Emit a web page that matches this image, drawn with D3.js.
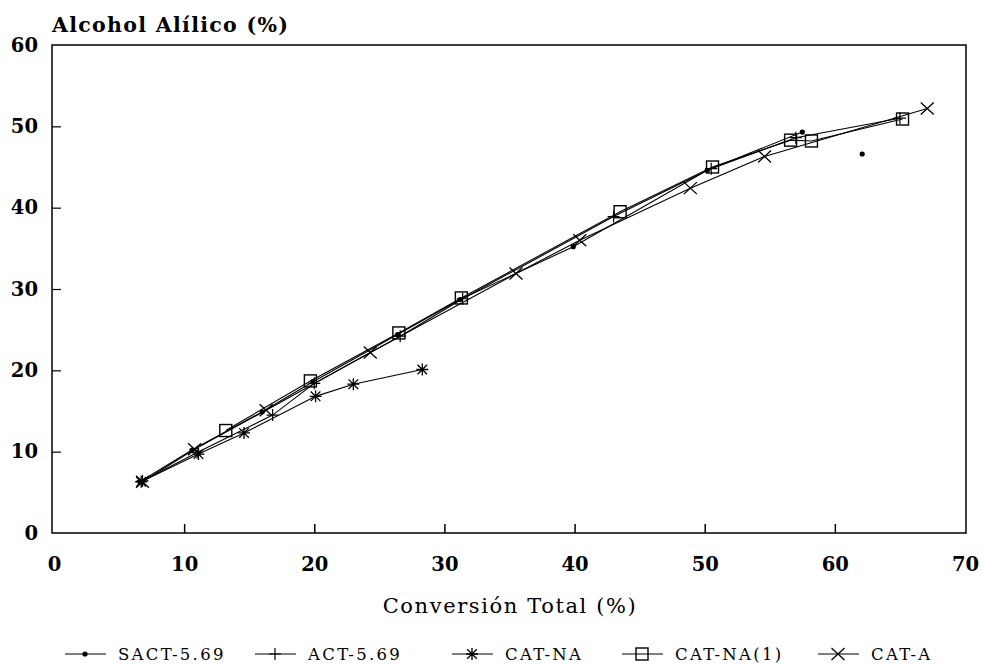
<!DOCTYPE html>
<html>
<head>
<meta charset="utf-8">
<script src="https://cdn.jsdelivr.net/npm/d3@7"></script>
<style>
  html, body { margin: 0; padding: 0; background: #fff; }
  svg { display: block; }
</style>
</head>
<body>
<svg id="chart" width="983" height="664"></svg>
<script>
// ---- data ----
const xTicks = [0, 10, 20, 30, 40, 50, 60, 70];
const yTicks = [0, 10, 20, 30, 40, 50, 60];

const seriesNames = ["SACT-5.69", "ACT-5.69", "CAT-NA", "CAT-NA(1)", "CAT-A"];
const seriesMarkers = ["dot", "plus", "star", "square", "cross"];

const sactX = [6.6, 10.6, 16.0, 19.9, 26.4, 31.2, 39.9, 50.2, 57.5];
const sactY = [6.3, 10.2, 14.9, 18.6, 24.4, 28.7, 35.2, 44.6, 49.3];

const actX = [6.8, 11.0, 16.8, 20.0, 26.6, 31.4, 43.0, 50.5, 57.0, 65.0];
const actY = [6.4, 9.9, 14.5, 18.4, 24.2, 28.8, 38.9, 44.8, 48.6, 51.0];

const catNaX = [6.7, 11.1, 14.6, 20.1, 23.0, 28.3];
const catNaY = [6.3, 9.7, 12.3, 16.8, 18.3, 20.1];

const catNa1X = [13.2, 19.7, 26.5, 31.3, 43.5, 50.6, 56.6, 58.2, 65.2];
const catNa1Y = [12.6, 18.7, 24.6, 28.9, 39.5, 45.0, 48.3, 48.2, 50.9];

const catAX = [6.8, 10.8, 16.3, 24.3, 35.5, 40.4, 48.9, 54.6, 67.1];
const catAY = [6.3, 10.3, 15.1, 22.2, 31.9, 36.0, 42.4, 46.3, 52.2];

const strayX = [62.1];
const strayY = [46.6];

// ---- layout ----
const svg = d3.select("#chart");
const L = 54, R = 965, T = 45, B = 533;
const x = d3.scaleLinear().domain([0, 70]).range([L, R]);
const y = d3.scaleLinear().domain([0, 60]).range([B, T]);

const serif = "'DejaVu Serif', 'Liberation Serif', serif";

// frame
svg.append("rect")
  .attr("x", L - 2).attr("y", T).attr("width", R - L + 3).attr("height", B - T)
  .attr("fill", "none").attr("stroke", "#000").attr("stroke-width", 1.5);

// axes (ticks inside)
const xAxis = d3.axisBottom(x).tickValues(xTicks).tickSize(-9).tickPadding(24).tickFormat(d3.format("d"));
const gx = svg.append("g").attr("transform", `translate(0,${B})`).call(xAxis);
gx.select(".domain").remove();
gx.selectAll(".tick line").attr("stroke", "#000").attr("stroke-width", 1.5)
  .filter(d => d === 0 || d === 70).remove();
gx.selectAll(".tick text").attr("font-family", serif).attr("font-weight", "bold")
  .attr("font-size", 19.5).attr("fill", "#000");

const yAxis = d3.axisLeft(y).tickValues(yTicks).tickSize(-9).tickPadding(14).tickFormat(d3.format("d"));
const gy = svg.append("g").attr("transform", `translate(${L - 2},0)`).call(yAxis);
gy.select(".domain").remove();
gy.selectAll(".tick line").attr("stroke", "#000").attr("stroke-width", 1.2)
  .filter(d => d === 0 || d === 60).remove();
gy.selectAll(".tick text").attr("font-family", serif).attr("font-weight", "bold")
  .attr("font-size", 19.5).attr("fill", "#000");

// titles
svg.append("text").attr("x", 52).attr("y", 32)
  .attr("font-family", serif).attr("font-weight", "bold").attr("font-size", 20.5)
  .attr("letter-spacing", 1.3)
  .text("Alcohol Alílico (%)");
svg.append("text").attr("x", 510).attr("y", 613).attr("text-anchor", "middle")
  .attr("font-family", serif).attr("font-size", 21).attr("letter-spacing", 1.6)
  .text("Conversión Total (%)");

// markers
function drawMarker(g, type, cx, cy) {
  const s = 6;
  if (type === "dot") {
    g.append("circle").attr("cx", cx).attr("cy", cy).attr("r", 2.6).attr("fill", "#000");
  } else if (type === "plus") {
    g.append("path").attr("d", `M${cx - s},${cy}H${cx + s}M${cx},${cy - s}V${cy + s}`)
      .attr("stroke", "#000").attr("stroke-width", 1.2).attr("fill", "none");
  } else if (type === "star") {
    g.append("path").attr("d",
      `M${cx - s},${cy}H${cx + s}M${cx},${cy - s}V${cy + s}` +
      `M${cx - s * 0.8},${cy - s * 0.8}L${cx + s * 0.8},${cy + s * 0.8}` +
      `M${cx - s * 0.8},${cy + s * 0.8}L${cx + s * 0.8},${cy - s * 0.8}`)
      .attr("stroke", "#000").attr("stroke-width", 1.3).attr("fill", "none");
  } else if (type === "square") {
    g.append("rect").attr("x", cx - 6).attr("y", cy - 6).attr("width", 12).attr("height", 12)
      .attr("stroke", "#000").attr("stroke-width", 1.4).attr("fill", "none");
  } else if (type === "cross") {
    g.append("path").attr("d",
      `M${cx - 6.5},${cy - 6}L${cx + 6.5},${cy + 6}M${cx - 6.5},${cy + 6}L${cx + 6.5},${cy - 6}`)
      .attr("stroke", "#000").attr("stroke-width", 1.3).attr("fill", "none");
  }
}

const allSeries = [
  [sactX, sactY], [actX, actY], [catNaX, catNaY], [catNa1X, catNa1Y], [catAX, catAY]
];
const line = d3.line().x(d => x(d[0])).y(d => y(d[1]));
const plot = svg.append("g");
allSeries.forEach(([xs, ys], i) => {
  const pts = xs.map((v, j) => [v, ys[j]]);
  plot.append("path").attr("d", line(pts)).attr("fill", "none")
    .attr("stroke", "#000").attr("stroke-width", 1.1);
  pts.forEach(p => drawMarker(plot, seriesMarkers[i], x(p[0]), y(p[1])));
});
strayX.forEach((v, j) => drawMarker(plot, "dot", x(v), y(strayY[j])));

// legend
const legendX = [65, 255, 452, 622, 818];
const legY = 654;
const leg = svg.append("g");
seriesNames.forEach((name, i) => {
  const lx = legendX[i];
  leg.append("line").attr("x1", lx).attr("x2", lx + 41).attr("y1", legY).attr("y2", legY)
    .attr("stroke", "#000").attr("stroke-width", 1.1);
  drawMarker(leg, seriesMarkers[i], lx + 20, legY);
  leg.append("text").attr("x", lx + 53).attr("y", legY + 6)
    .attr("font-family", serif).attr("font-size", 16.5).attr("letter-spacing", 2.3).text(name);
});
</script>
</body>
</html>
